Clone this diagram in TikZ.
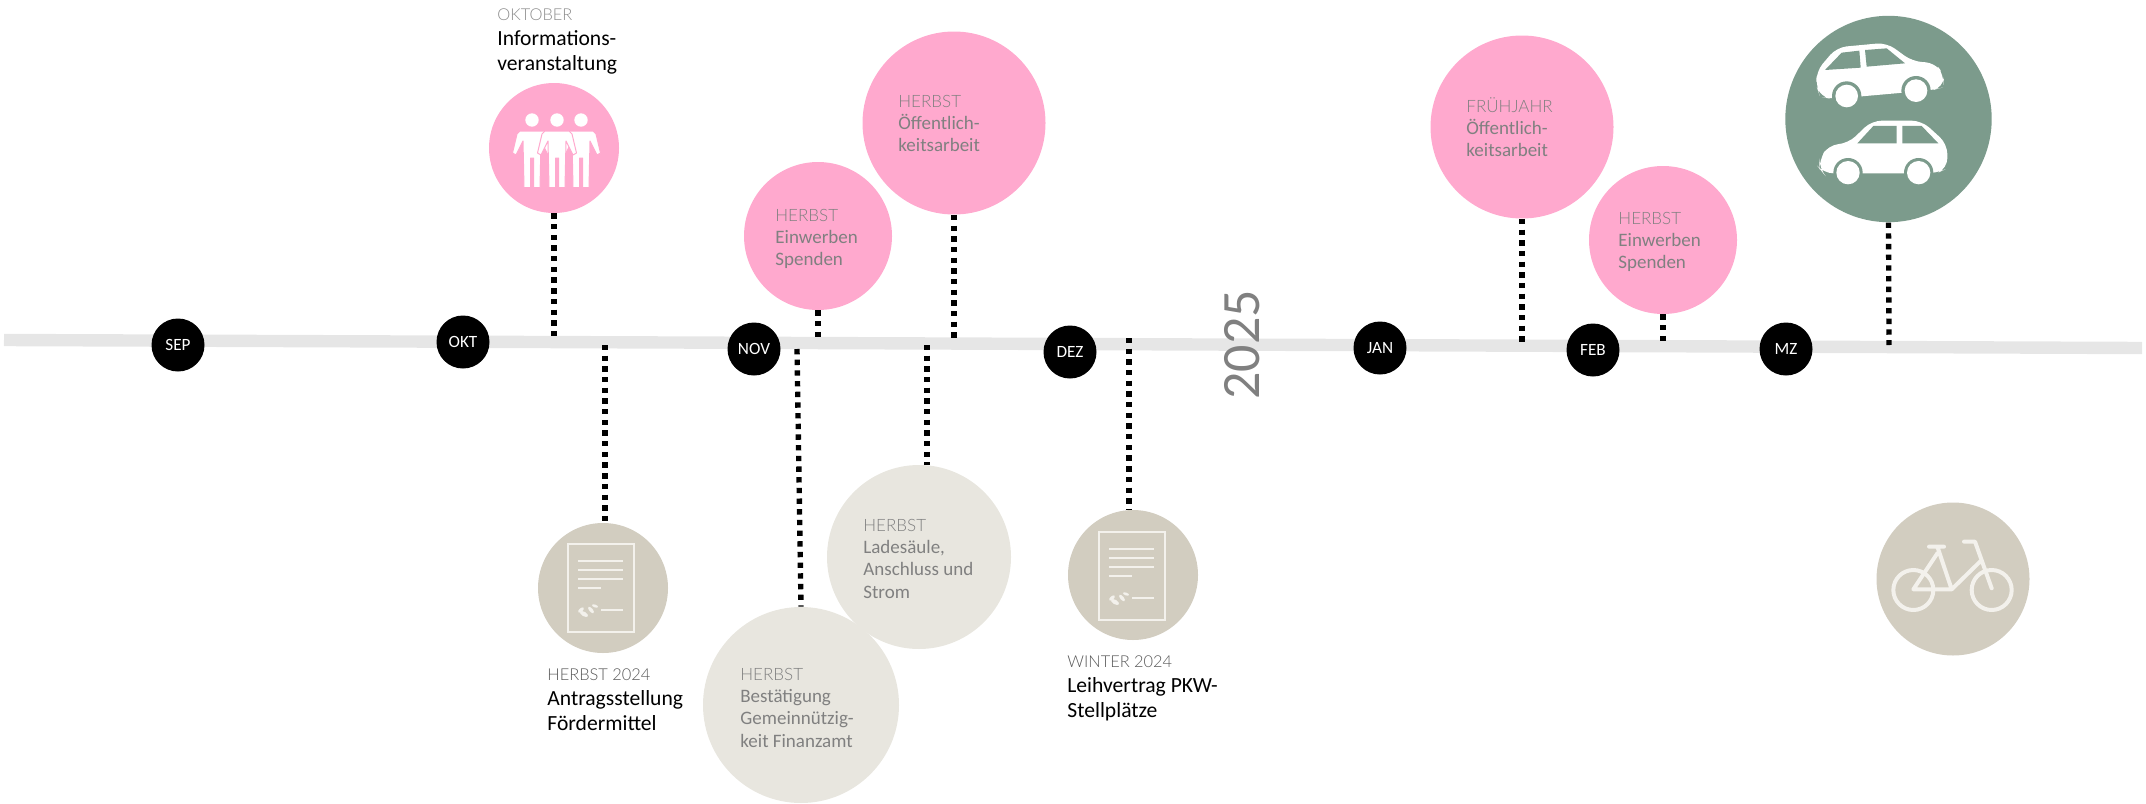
\documentclass[tikz,border=0pt]{standalone}
\usepackage{fontspec}
\setmainfont{Carlito}
\newfontfamily\lightf{Lato Light}
\definecolor{pinkc}{HTML}{FFA9CE}
\definecolor{greenc}{HTML}{7C9B8C}
\definecolor{beigec}{HTML}{D2CDC0}
\definecolor{lightc}{HTML}{E8E6DF}
\definecolor{linec}{HTML}{E6E6E6}
\definecolor{iconc}{HTML}{F3F1EC}
\newcommand{\hdfont}{\lightf\fontsize{8.2}{12.4}\selectfont}
\newcommand{\inhd}{\lightf\fontsize{8.5}{11.1}\selectfont}
\tikzset{
  circ/.style={circle,inner sep=0pt,minimum size=#1},
  month/.style={circle,fill=black,text=white,inner sep=0pt,minimum size=26.5,font=\fontsize{8.6}{10}\selectfont},
  conn/.style={line width=2.67pt,dash pattern=on 2.67pt off 2.67pt,black},
  lbl/.style={anchor=north west,inner sep=0pt,align=left,font=\fontsize{10.8}{12.5}\selectfont},
  inlbl/.style={anchor=north west,inner sep=0pt,align=left,text=black!50,font=\fontsize{9.5}{11.1}\selectfont},
  iconline/.style={iconc,line width=1.4pt},
}
\newcommand{\docicon}[2]{%
\begin{scope}[shift={(#1,#2)}]
 \draw[iconline] (48,34) rectangle (114,122);
 \draw[iconline] (58,51) -- (103,51) (58,60) -- (103,60) (58,69) -- (103,69) (58,78) -- (81,78) (81,100) -- (103,100);
 \fill[iconc,rotate around={-30:(64,104)}] (64,104) ellipse (4.5 and 2.2);
 \fill[iconc,rotate around={-50:(71,100)}] (71,100) ellipse (4 and 1.8);
 \fill[iconc,rotate around={40:(61,100)}] (61,100) ellipse (3.5 and 1.8);
 \fill[iconc,rotate around={-20:(75,96)}] (75,96) ellipse (3.2 and 1.4);
\end{scope}}
\newcommand{\person}[1]{%
 \fill[white] (#1,120) circle (6.7);
 \filldraw[white,draw=pinkc,line width=.5pt,line join=round] (#1-12,131) -- (#1+12,131) -- (#1+15,134) -- (#1+19.5,153) -- (#1+16,155) -- (#1+9,141) -- (#1+8,187.5) -- (#1+1.5,187.5) -- (#1+1.5,158) -- (#1-1.5,158) -- (#1-1.5,187.5) -- (#1-8,187.5) -- (#1-9,141) -- (#1-16,155) -- (#1-19.5,153) -- (#1-15,134) -- cycle;}
\begin{document}
\begin{tikzpicture}[x=0.5pt,y=-0.5pt]
\useasboundingbox (0,0) rectangle (2146,803);
\coordinate (tlstart) at (4,340);
\coordinate (tlend) at (2142,348);
\draw[linec,line width=6.2pt] (tlstart) -- (tlend);
% circles
\node[circ=65,fill=pinkc] (people) at (554,148) {};
\node[circ=74,fill=pinkc] (spend1) at (818,236) {};
\node[circ=91.5,fill=pinkc] (oeff1) at (954,123) {};
\node[circ=91.5,fill=pinkc] (oeff2) at (1522,127) {};
\node[circ=74,fill=pinkc] (spend2) at (1663,240) {};
\node[circ=103.2,fill=greenc] (cars) at (1888.5,119) {};
\node[circ=65,fill=beigec] (doc1) at (603,588) {};
\node[circ=65,fill=beigec] (doc2) at (1133,575) {};
\node[circ=92,fill=lightc] (lade) at (919,557) {};
\node[circ=98,fill=lightc] (best) at (801,705) {};
\node[circ=76.5,fill=beigec] (bike) at (1953,579) {};
% timeline anchors
\coordinate (t1) at (554,340);
\coordinate (t2) at (605,345);
\coordinate (t3) at (797,349);
\coordinate (t4) at (818,340);
\coordinate (t5) at (927,345);
\coordinate (t6) at (954,340);
\coordinate (t7) at (1129,338);
\coordinate (t8) at (1522,343);
\coordinate (t9) at (1663,343);
\coordinate (t10) at (1889,345);
\draw[conn] (people.south) -- (t1);
\draw[conn] (t2) -- (doc1.north-|t2);
\draw[conn] (t3) -- (best.north);
\draw[conn] (spend1.south) -- (t4);
\draw[conn] (t5) -- (lade.north-|t5);
\draw[conn] (oeff1.south) -- (t6);
\draw[conn] (t7) -- (doc2.north-|t7);
\draw[conn] (oeff2.south) -- (t8);
\draw[conn] (spend2.south) -- (t9);
\draw[conn] (cars.south) -- (t10);
% months
\node[month] (sep) at (178,345) {SEP};
\node[month] (okt) at (463,342) {OKT};
\node[month] (nov) at (754,349) {NOV};
\node[month] (dez) at (1070,352) {DEZ};
\node[month] (jan) at (1380,348) {JAN};
\node[month] (feb) at (1593,350) {FEB};
\node[month] (mz) at (1786,349) {MZ};
\node[rotate=90,text=black!50,font=\fontsize{27}{27}\selectfont,inner sep=0pt] (year) at (1242,345) {2025};
% labels
\node[lbl] (l1) at (497,8) {{\hdfont\color{black!45}OKTOBER}\\Informations-\\veranstaltung};
\node[lbl] (l2) at (547,668) {{\hdfont\color{black!65}HERBST 2024}\\Antragsstellung\\Fördermittel};
\node[lbl] (l3) at (1067,655) {{\hdfont\color{black!65}WINTER 2024}\\Leihvertrag PKW-\\Stellplätze};
\node[inlbl] (l4) at (775,209) {{\inhd HERBST}\\Einwerben\\Spenden};
\node[inlbl] (l5) at (898,95) {{\inhd HERBST}\\Öffentlich-\\keitsarbeit};
\node[inlbl] (l6) at (1466,97) {{\inhd FRÜHJAHR}\\Öffentlich-\\keitsarbeit};
\node[inlbl] (l7) at (1618,212) {{\inhd HERBST}\\Einwerben\\Spenden};
\node[inlbl] (l8) at (863,519) {{\inhd HERBST}\\Ladesäule,\\Anschluss und\\Strom};
\node[inlbl] (l9) at (740,668) {{\inhd HERBST}\\Bestätigung\\Gemeinnützig-\\keit Finanzamt};
% people icon
\person{532}\person{581}\person{557}
% document icons
\docicon{520}{510}
\docicon{1051}{498}
% cars
\begin{scope}[shift={(1770,0)},xscale=1/3,yscale=1/3]
 \fill[white,rounded corners=5pt] (138,215) -- (200,142) -- (350,128) -- (428,185) -- (495,188) -- (522,225) -- (520,262) -- (490,270) -- (185,297) -- (150,290) -- (140,260) -- cycle;
 \fill[greenc] (230,288) circle (44) (438,272) circle (44);
 \fill[white] (230,288) circle (34) (438,272) circle (34);
 \fill[greenc] (165,210) -- (215,158) -- (268,152) -- (272,203) -- cycle (285,150) -- (350,145) -- (405,190) -- (290,200) -- cycle;
 \fill[white,rounded corners=5pt] (148,480) -- (175,435) -- (235,430) -- (305,362) -- (455,362) -- (532,432) -- (532,505) -- (500,520) -- (160,520) -- (148,505) -- cycle;
 \fill[greenc] (234,518) circle (44) (446,518) circle (44);
 \fill[white] (234,518) circle (35) (446,518) circle (35);
 \fill[greenc] (262,430) -- (310,378) -- (380,378) -- (380,430) -- cycle (397,378) -- (455,378) -- (505,430) -- (397,430) -- cycle;
\end{scope}
% bike
\begin{scope}[shift={(1860,490)},xscale=1/3,yscale=1/3]
 \draw[iconc,line width=2pt,line join=round,line cap=round] (160,300) circle (60) (395,300) circle (60);
 \draw[iconc,line width=2pt,line join=round,line cap=round] (207,170) -- (252,170) (232,170) -- (275,298) -- (160,298) -- (232,190) (275,298) -- (360,215) (312,155) -- (345,155) -- (395,295);
\end{scope}
\end{tikzpicture}
\end{document}
